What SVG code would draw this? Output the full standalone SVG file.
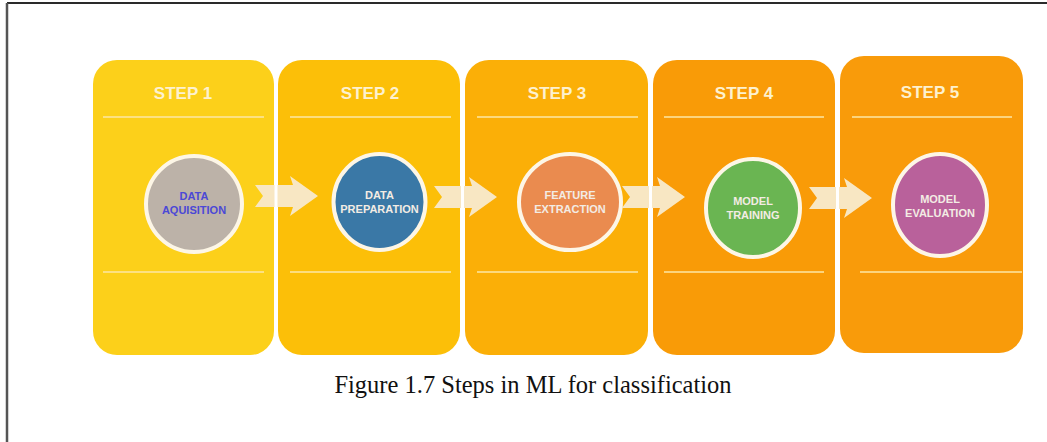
<svg xmlns="http://www.w3.org/2000/svg" width="1047" height="442" viewBox="0 0 1047 442">
  <style>
    .step { font-family: "Liberation Sans", Arial, sans-serif; font-weight: bold; font-size: 17px; fill: #fdf1cf; text-anchor: middle; }
    .rule { stroke: #fde7a6; stroke-width: 1.6; }
    .disc { stroke: #fdf6e6; stroke-width: 4; }
    .lbl { font-family: "Liberation Sans", Arial, sans-serif; font-weight: bold; font-size: 11px; fill: #f3ece4; text-anchor: middle; }
    .arrow { fill: #f8e7c3; }
    .caption { font-family: "Liberation Serif", "Times New Roman", serif; font-size: 24.5px; fill: #111; text-anchor: middle; }
  </style>
  <defs>
    <path id="chevron" d="M0,-11 L38,-11 L35,-20 L63,0 L35,20 L38,11 L0,11 L8,0 Z"/>
    <!-- thin white gaps between the columns cut through the arrows -->
    <mask id="gaps" maskUnits="userSpaceOnUse" x="0" y="0" width="1047" height="442">
      <rect x="0" y="0" width="1047" height="442" fill="#fff"/>
      <rect x="274.5" y="0" width="3" height="442" fill="#000"/>
      <rect x="461" y="0" width="3" height="442" fill="#000"/>
      <rect x="649" y="0" width="3" height="442" fill="#000"/>
      <rect x="836" y="0" width="3" height="442" fill="#000"/>
    </mask>
  </defs>

  <rect width="1047" height="442" fill="#fff"/>
  <!-- frame -->
  <line x1="7" y1="3" x2="1047" y2="3" stroke="#2a2a2a" stroke-width="2"/>
  <line x1="7" y1="3" x2="7" y2="442" stroke="#555" stroke-width="2.5"/>

  <g id="step1">
    <rect x="93" y="60" width="181" height="295" rx="24" fill="#fcd01a"/>
    <text class="step" x="183" y="99">STEP 1</text>
    <line class="rule" x1="103" y1="117" x2="264" y2="117"/>
    <line class="rule" x1="103" y1="272" x2="264" y2="272"/>
    <ellipse class="disc" cx="194" cy="204" rx="48" ry="48" fill="#bcb2a8"/>
    <text class="lbl" x="194" y="200" style="fill:#4b48d6">DATA</text>
    <text class="lbl" x="194" y="214" style="fill:#4b48d6">AQUISITION</text>
  </g>

  <g id="step2">
    <rect x="278" y="60" width="182" height="295" rx="24" fill="#fcbf08"/>
    <text class="step" x="370" y="99">STEP 2</text>
    <line class="rule" x1="290" y1="117" x2="451" y2="117"/>
    <line class="rule" x1="290" y1="272" x2="451" y2="272"/>
    <ellipse class="disc" cx="379.5" cy="202" rx="46" ry="48" fill="#3a78a6"/>
    <text class="lbl" x="379.5" y="199">DATA</text>
    <text class="lbl" x="379.5" y="213">PREPARATION</text>
  </g>

  <g id="step3">
    <rect x="465" y="60" width="183" height="295" rx="24" fill="#fbaf07"/>
    <text class="step" x="557" y="99">STEP 3</text>
    <line class="rule" x1="477" y1="117" x2="638" y2="117"/>
    <line class="rule" x1="477" y1="272" x2="638" y2="272"/>
    <ellipse class="disc" cx="570" cy="202" rx="51" ry="48" fill="#ea8b4f"/>
    <text class="lbl" x="570" y="199">FEATURE</text>
    <text class="lbl" x="570" y="213">EXTRACTION</text>
  </g>

  <g id="step4">
    <rect x="653" y="60" width="182" height="295" rx="24" fill="#f99b07"/>
    <text class="step" x="744" y="99">STEP 4</text>
    <line class="rule" x1="664" y1="117" x2="824" y2="117"/>
    <line class="rule" x1="664" y1="272" x2="824" y2="272"/>
    <ellipse class="disc" cx="753" cy="208" rx="47" ry="49" fill="#6ab552"/>
    <text class="lbl" x="753" y="205">MODEL</text>
    <text class="lbl" x="753" y="219">TRAINING</text>
  </g>

  <g id="step5">
    <rect x="840" y="56" width="183" height="297" rx="24" fill="#f99b0a"/>
    <text class="step" x="930" y="98">STEP 5</text>
    <line class="rule" x1="852" y1="117" x2="1012" y2="117"/>
    <line class="rule" x1="860" y1="272" x2="1022" y2="272"/>
    <ellipse class="disc" cx="940" cy="205" rx="47" ry="51" fill="#b9619b"/>
    <text class="lbl" x="940" y="203">MODEL</text>
    <text class="lbl" x="940" y="217">EVALUATION</text>
  </g>

  <g id="connectors" mask="url(#gaps)">
    <use href="#chevron" class="arrow" transform="translate(255,196)"/>
    <use href="#chevron" class="arrow" transform="translate(434,197)"/>
    <use href="#chevron" class="arrow" transform="translate(622,197)"/>
    <use href="#chevron" class="arrow" transform="translate(809,198)"/>
  </g>

  <text class="caption" x="533" y="393">Figure 1.7 Steps in ML for classification</text>
</svg>
